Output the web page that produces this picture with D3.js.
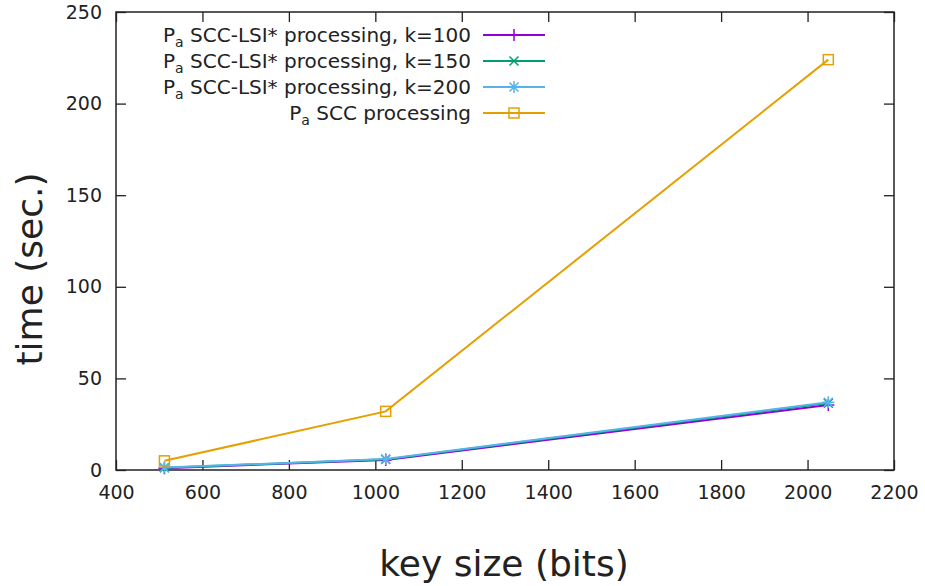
<!DOCTYPE html>
<html>
<head>
<meta charset="utf-8">
<script src="https://cdn.jsdelivr.net/npm/d3@7"></script>
<style>
  body { margin: 0; background: #fff; }
  text { font-family: "DejaVu Sans", sans-serif; fill: #222; }
</style>
</head>
<body>
<script>
// key sizes and timings
var keySizes = [512, 1024, 2048];
var lsi100 = [1.0, 5.5, 35.5];
var lsi150 = [1.2, 5.8, 36.5];
var lsi200 = [1.3, 6.0, 37.0];
var scc = [5, 32, 224];
var seriesNames = ["SCC-LSI* processing, k=100", "SCC-LSI* processing, k=150",
                   "SCC-LSI* processing, k=200", "SCC processing"];
var xTicks = [400, 600, 800, 1000, 1200, 1400, 1600, 1800, 2000, 2200];
var yTicks = [0, 50, 100, 150, 200, 250];

var w = 925, h = 586;
var mLeft = 116, mRight = 894, mTop = 12, mBottom = 470;

var series = [
  { name: seriesNames[0], values: lsi100, color: "#9400d3", marker: "plus" },
  { name: seriesNames[1], values: lsi150, color: "#009e73", marker: "cross" },
  { name: seriesNames[2], values: lsi200, color: "#56b4e9", marker: "star" },
  { name: seriesNames[3], values: scc, color: "#e69f00", marker: "square" }
];

var xScale = d3.scaleLinear().domain([400, 2200]).range([mLeft, mRight]);
var yScale = d3.scaleLinear().domain([0, 250]).range([mBottom, mTop]);

var svg = d3.select("body").append("svg")
  .attr("width", w)
  .attr("height", h);

// inward ticks on all four sides, gnuplot style
var tick = 10;
var fmt = d3.format("d");
svg.append("g").attr("transform", "translate(0," + mBottom + ")")
  .call(d3.axisBottom(xScale).tickValues(xTicks).tickFormat(fmt).tickSizeInner(-tick).tickSizeOuter(0).tickPadding(16))
  .call(function(g) { g.select(".domain").remove(); })
  .selectAll("text").attr("font-size", "19px");
svg.append("g").attr("transform", "translate(0," + mTop + ")")
  .call(d3.axisTop(xScale).tickValues(xTicks).tickSizeInner(-tick).tickSizeOuter(0).tickFormat(""))
  .call(function(g) { g.select(".domain").remove(); });
svg.append("g").attr("transform", "translate(" + mLeft + ",0)")
  .call(d3.axisLeft(yScale).tickValues(yTicks).tickFormat(fmt).tickSizeInner(-tick).tickSizeOuter(0).tickPadding(14))
  .call(function(g) { g.select(".domain").remove(); })
  .selectAll("text").attr("font-size", "19px");
svg.append("g").attr("transform", "translate(" + mRight + ",0)")
  .call(d3.axisRight(yScale).tickValues(yTicks).tickSizeInner(-tick).tickSizeOuter(0).tickFormat(""))
  .call(function(g) { g.select(".domain").remove(); });

svg.selectAll(".tick line").attr("stroke", "#222").attr("stroke-width", 1.3);
svg.selectAll(".tick text").attr("fill", "#222").attr("font-family", "DejaVu Sans, sans-serif");

svg.append("rect")
  .attr("x", mLeft).attr("y", mTop)
  .attr("width", mRight - mLeft).attr("height", mBottom - mTop)
  .attr("fill", "none").attr("stroke", "#222").attr("stroke-width", 1.5);

// markers
function drawMarker(g, type, color, x, y) {
  var s = 6;
  var p = "";
  if (type === "plus" || type === "star") p += "M" + (x - s) + "," + y + "H" + (x + s) + "M" + x + "," + (y - s) + "V" + (y + s);
  if (type === "cross" || type === "star") {
    var c = s * 0.75;
    p += "M" + (x - c) + "," + (y - c) + "L" + (x + c) + "," + (y + c) + "M" + (x - c) + "," + (y + c) + "L" + (x + c) + "," + (y - c);
  }
  if (type === "square") {
    g.append("rect").attr("x", x - 5).attr("y", y - 5).attr("width", 10).attr("height", 10)
      .attr("fill", "none").attr("stroke", color).attr("stroke-width", 1.5);
    return;
  }
  g.append("path").attr("d", p).attr("stroke", color).attr("stroke-width", 1.5).attr("fill", "none");
}

var line = d3.line()
  .x(function(d, i) { return xScale(keySizes[i]); })
  .y(function(d) { return yScale(d); });

series.forEach(function(s) {
  var g = svg.append("g");
  g.append("path").datum(s.values)
    .attr("d", line)
    .attr("fill", "none")
    .attr("stroke", s.color)
    .attr("stroke-width", 2);
  s.values.forEach(function(v, i) {
    drawMarker(g, s.marker, s.color, xScale(keySizes[i]), yScale(v));
  });
});

// legend
var legend = svg.append("g");
series.forEach(function(s, i) {
  var y = 35 + i * 26;
  var t = legend.append("text")
    .attr("x", 471).attr("y", y + 7)
    .attr("text-anchor", "end")
    .attr("font-size", "20px");
  t.append("tspan").text("P");
  t.append("tspan").attr("font-size", "14px").attr("dy", 5).text("a");
  t.append("tspan").attr("dy", -5).text(" " + s.name);
  legend.append("line")
    .attr("x1", 483).attr("x2", 545).attr("y1", y).attr("y2", y)
    .attr("stroke", s.color).attr("stroke-width", 2);
  drawMarker(legend, s.marker, s.color, 514, y);
});

// axis titles
svg.append("text")
  .attr("x", 504).attr("y", 576)
  .attr("text-anchor", "middle")
  .attr("font-size", "36px")
  .text("key size (bits)");
svg.append("text")
  .attr("transform", "translate(42,269) rotate(-90)")
  .attr("text-anchor", "middle")
  .attr("font-size", "36px")
  .text("time (sec.)");
</script>
</body>
</html>
